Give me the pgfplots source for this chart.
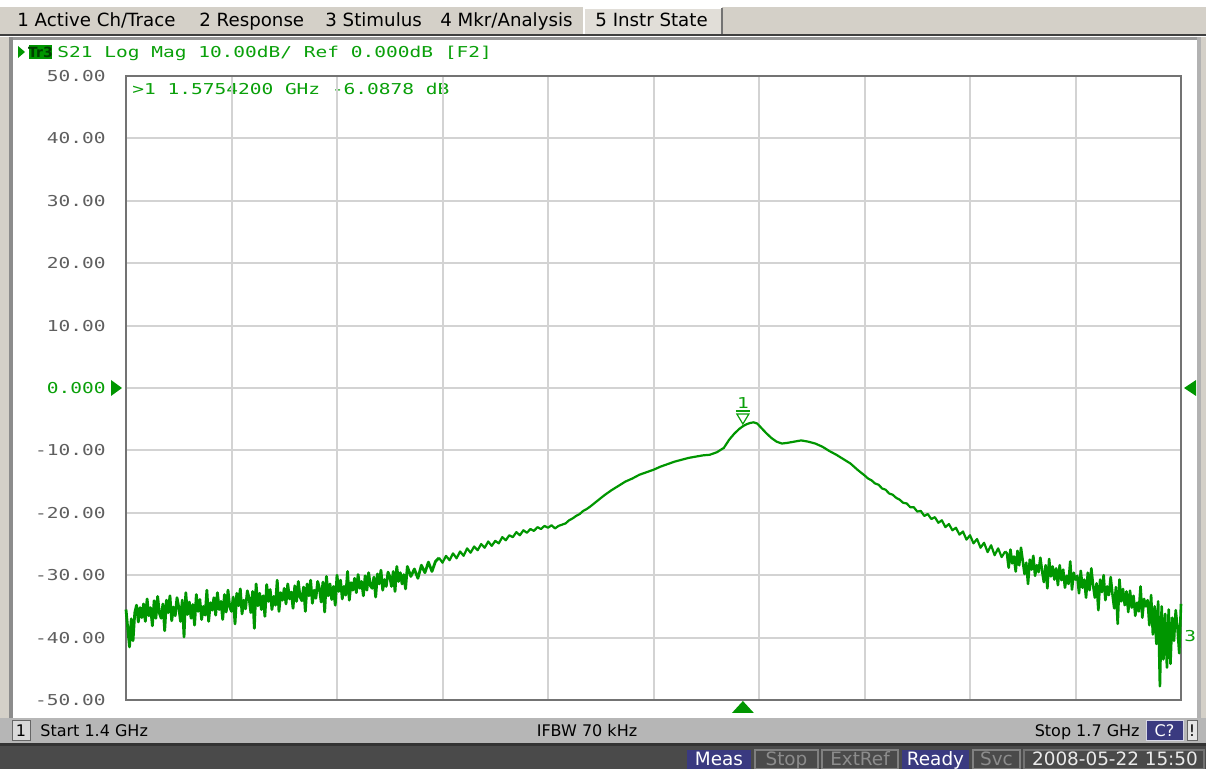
\documentclass[border=0pt]{standalone}
\usepackage{pgfplots}
\pgfplotsset{compat=1.18}
\usepackage{fontspec}
\setmainfont{DejaVu Sans}
\newfontfamily\scr[FakeStretch=1.30]{DejaVu Sans Mono}
\newcommand\mono{\fontsize{7.5}{9}\selectfont\scr}
\newcommand\menufont{\fontsize{9.1}{10}\selectfont}
\newcommand\statfont{\fontsize{8}{9}\selectfont}
\newcommand\barfont{\fontsize{9.2}{10}\selectfont}
\definecolor{trg}{RGB}{0,150,0}
\definecolor{txg}{RGB}{10,160,10}
\definecolor{menubg}{RGB}{212,208,200}
\definecolor{statbg}{RGB}{182,182,182}
\definecolor{darkbar}{RGB}{74,74,74}
\definecolor{navy}{RGB}{58,58,128}
\definecolor{gridc}{RGB}{211,211,211}
\definecolor{labgray}{RGB}{95,95,95}
\begin{document}
\begin{tikzpicture}
\path[use as bounding box] (0,0) rectangle (603pt,-384.5pt);
\begin{scope}[x=0.5pt,y=-0.5pt]
 \fill[white] (0,0) rectangle (1206,769);
 % menu bar
 \fill[menubg] (0,7) rectangle (1206,35);
 \fill[black!75] (0,34.5) rectangle (1206,36.5);
 \fill[menubg!70!white] (584,8) rectangle (722,34);
 \draw[white, line width=1pt] (584,34) -- (584,8) -- (722,8);
 \draw[black!55, line width=1pt] (722,8) -- (722,34);
 \node[anchor=base west, inner sep=0, font=\menufont] at (17,27) {1 Active Ch/Trace};
 \node[anchor=base west, inner sep=0, font=\menufont] at (199,27) {2 Response};
 \node[anchor=base west, inner sep=0, font=\menufont] at (325,27) {3 Stimulus};
 \node[anchor=base west, inner sep=0, font=\menufont] at (440,27) {4 Mkr/Analysis};
 \node[anchor=base west, inner sep=0, font=\menufont] at (595,27) {5 Instr State};
 % panel border
 \fill[black!40] (0,37) rectangle (1206,40);
 \fill[black!45] (9,37) rectangle (13,718);
 \fill[black!30] (1197,37) rectangle (1201,718);
 \fill[menubg] (1201,37) rectangle (1206,718);
 \fill[menubg] (0,37) rectangle (9,718);
 % header
 \fill[trg] (18,46) -- (25,52) -- (18,58) -- cycle;
 \fill[trg] (29,45) rectangle (52,59);
 \node[anchor=center, inner sep=0, font=\fontsize{7}{7}\selectfont\bfseries, text=black!75!green] at (40.5,52.5) {Tr3};
 \node[anchor=base west, inner sep=0, font=\mono, text=txg] at (57,57.5) {S21 Log Mag 10.00dB/ Ref 0.000dB [F2]};
 \node[anchor=base west, inner sep=0, font=\mono, text=txg] at (132,94.5) {>1 1.5754200 GHz -6.0878 dB};
 % status bar
 \fill[statbg] (0,718) rectangle (1206,743);
 \fill[black!80] (0,743) rectangle (1206,746);
 \fill[darkbar] (0,746) rectangle (1206,769);
 \fill[black!15] (12,721) rectangle (30,741);
 \draw[black!60, line width=0.5pt] (12,721) rectangle (30,741);
 \node[anchor=base, inner sep=0, font=\statfont] at (21,737) {1};
 \node[anchor=base west, inner sep=0, font=\statfont] at (40,737) {Start 1.4 GHz};
 \node[anchor=base, inner sep=0, font=\statfont] at (587,737) {IFBW 70 kHz};
 \node[anchor=base east, inner sep=0, font=\statfont] at (1140,737) {Stop 1.7 GHz};
 \fill[navy] (1146,721) rectangle (1183,741);
 \draw[white!80!navy, line width=0.5pt] (1146,721) rectangle (1183,741);
 \node[anchor=base, inner sep=0, font=\statfont, text=white] at (1164.5,737) {C?};
 \fill[black!10] (1187,721) rectangle (1197,741);
 \draw[black!60, line width=0.5pt] (1187,721) rectangle (1197,741);
 \node[anchor=base, inner sep=0, font=\statfont] at (1192,737) {!};
 % bottom bar boxes
 \fill[navy] (687,750) rectangle (751,769);
 \node[anchor=base, inner sep=0, font=\barfont, text=white] at (719,766) {Meas};
 \draw[black!50, line width=1pt] (755,750) rectangle (818,769);
 \node[anchor=base, inner sep=0, font=\barfont, text=black!45] at (786.5,766) {Stop};
 \draw[black!50, line width=1pt] (822,750) rectangle (898,769);
 \node[anchor=base, inner sep=0, font=\barfont, text=black!45] at (860,766) {ExtRef};
 \fill[navy] (902,750) rectangle (969,769);
 \node[anchor=base, inner sep=0, font=\barfont, text=white] at (935.5,766) {Ready};
 \draw[black!50, line width=1pt] (973,750) rectangle (1020,769);
 \node[anchor=base, inner sep=0, font=\barfont, text=black!45] at (996.5,766) {Svc};
 \draw[black!55, line width=1pt] (1024,750) rectangle (1204,769);
 \node[anchor=base, inner sep=0, font=\barfont, text=black!8] at (1115,766) {2008-05-22 15:50};
\end{scope}
\begin{axis}[
  at={(63pt,-350pt)}, anchor=south west,
  width=527.5pt, height=312pt, scale only axis,
  xmin=1.4, xmax=1.7, ymin=-50, ymax=50,
  xtick={1.43,1.46,1.49,1.52,1.55,1.58,1.61,1.64,1.67},
  xticklabels={},
  ytick={-50,-40,-30,-20,-10,0,10,20,30,40,50},
  yticklabels={-50.00,-40.00,-30.00,-20.00,-10.00,{\textcolor{txg}{0.000}},10.00,20.00,30.00,40.00,50.00},
  yticklabel style={font=\mono, text=labgray, anchor=east, inner sep=0pt, xshift=-10pt},
  major tick length=0pt, tick style={draw=none},
  grid=major, major grid style={gridc, line width=1pt},
  axis line style={draw=black!55, line width=0.6pt},
  clip=false,
]
% noisy low-frequency part
\addplot[trg, line width=1.4pt, line join=round] coordinates {
(1.4000,-35.5)(1.4005,-38.5)(1.4010,-41.5)(1.4015,-37.0)(1.4020,-40.5)(1.4025,-36.0)(1.4030,-34.8)(1.4035,-37.5)(1.4040,-35.2)(1.4045,-36.8)
(1.4050,-34.6)(1.4055,-37.4)(1.4060,-33.8)(1.4065,-36.5)(1.4070,-35.2)(1.4075,-38.1)(1.4080,-34.1)(1.4085,-36.9)(1.4090,-33.4)(1.4095,-36.1)
(1.4100,-36.9)(1.4105,-34.6)(1.4110,-38.9)(1.4115,-34.0)(1.4120,-36.0)(1.4125,-33.3)(1.4130,-37.3)(1.4135,-35.1)(1.4140,-36.5)(1.4145,-33.6)
(1.4150,-35.1)(1.4155,-37.4)(1.4160,-34.0)(1.4165,-39.9)(1.4170,-32.8)(1.4175,-36.3)(1.4180,-34.3)(1.4185,-36.9)(1.4190,-34.7)(1.4195,-38.0)
(1.4200,-33.1)(1.4205,-35.8)(1.4210,-33.9)(1.4215,-37.1)(1.4220,-35.0)(1.4225,-36.4)(1.4230,-32.4)(1.4235,-37.4)(1.4240,-34.4)(1.4245,-35.6)
(1.4250,-33.6)(1.4255,-36.4)(1.4260,-32.8)(1.4265,-35.5)(1.4270,-34.2)(1.4275,-37.1)(1.4280,-33.1)(1.4285,-35.9)(1.4290,-32.4)(1.4295,-35.1)
(1.4300,-35.8)(1.4305,-33.5)(1.4310,-37.8)(1.4315,-32.9)(1.4320,-34.9)(1.4325,-32.2)(1.4330,-36.2)(1.4335,-34.0)(1.4340,-35.4)(1.4345,-32.5)
(1.4350,-33.7)(1.4355,-36.0)(1.4360,-32.6)(1.4365,-38.5)(1.4370,-31.4)(1.4375,-34.9)(1.4380,-32.9)(1.4385,-35.5)(1.4390,-33.3)(1.4395,-36.6)
(1.4400,-31.5)(1.4405,-34.2)(1.4410,-32.3)(1.4415,-35.5)(1.4420,-33.4)(1.4425,-34.8)(1.4430,-30.8)(1.4435,-35.8)(1.4440,-32.8)(1.4445,-34.0)
(1.4450,-32.1)(1.4455,-34.6)(1.4460,-31.4)(1.4465,-33.8)(1.4470,-32.7)(1.4475,-35.3)(1.4480,-31.7)(1.4485,-34.2)(1.4490,-31.0)(1.4495,-33.5)
(1.4500,-34.1)(1.4505,-31.9)(1.4510,-35.8)(1.4515,-31.4)(1.4520,-33.3)(1.4525,-30.8)(1.4530,-34.5)(1.4535,-32.4)(1.4540,-33.7)(1.4545,-31.0)
(1.4550,-32.1)(1.4555,-34.3)(1.4560,-31.1)(1.4565,-35.9)(1.4570,-30.2)(1.4575,-33.3)(1.4580,-31.4)(1.4585,-33.9)(1.4590,-31.8)(1.4595,-34.8)
(1.4600,-30.0)(1.4605,-32.6)(1.4610,-30.8)(1.4615,-33.8)(1.4620,-31.8)(1.4625,-33.2)(1.4630,-29.4)(1.4635,-34.0)(1.4640,-31.2)(1.4645,-32.4)
(1.4650,-30.5)(1.4655,-32.8)(1.4660,-29.9)(1.4665,-32.1)(1.4670,-31.0)(1.4675,-33.3)(1.4680,-30.1)(1.4685,-32.4)(1.4690,-29.6)(1.4695,-31.7)
(1.4700,-32.1)(1.4705,-30.3)(1.4710,-33.5)(1.4715,-29.8)(1.4720,-31.4)(1.4725,-29.2)(1.4730,-32.4)(1.4735,-30.7)(1.4740,-31.8)(1.4745,-29.5)
(1.4750,-30.2)(1.4755,-31.8)(1.4760,-29.4)(1.4765,-32.6)(1.4770,-28.6)(1.4775,-31.0)(1.4780,-29.6)(1.4785,-31.4)(1.4790,-29.9)(1.4795,-32.2)
(1.480,-28.6)(1.481,-30.2)(1.482,-29.0)(1.483,-30.5)(1.484,-28.4)(1.485,-29.6)(1.486,-27.9)(1.487,-29.4)(1.488,-27.8)(1.489,-27.2)
};
% smoother central part
\addplot[trg, line width=1.1pt, line join=round] coordinates {
(1.489,-27.2)(1.490,-28.0)(1.491,-26.9)(1.492,-27.6)(1.493,-26.5)(1.494,-27.3)(1.495,-26.2)(1.496,-26.9)(1.497,-25.7)(1.498,-26.4)
(1.499,-25.4)(1.500,-26.0)(1.501,-25.0)(1.502,-25.6)(1.503,-24.6)(1.504,-25.3)(1.505,-24.5)(1.506,-24.9)(1.507,-23.9)(1.508,-24.4)
(1.509,-23.6)(1.510,-23.9)(1.511,-23.1)(1.512,-23.6)(1.513,-22.8)(1.514,-23.2)(1.515,-22.6)(1.516,-22.9)(1.517,-22.3)(1.518,-22.6)
(1.519,-22.1)(1.520,-22.4)(1.521,-22.0)(1.522,-22.5)(1.523,-22.1)(1.524,-21.9)(1.525,-21.7)(1.526,-21.2)(1.527,-20.9)(1.528,-20.5)
(1.529,-20.2)(1.530,-19.7)(1.531,-19.4)(1.532,-19.0)
(1.534,-18.1)(1.536,-17.2)(1.538,-16.4)(1.540,-15.7)(1.542,-15.0)(1.544,-14.5)(1.546,-13.9)(1.548,-13.5)(1.550,-13.1)(1.552,-12.6)
(1.554,-12.2)(1.556,-11.8)(1.558,-11.5)(1.560,-11.2)(1.562,-11.0)(1.564,-10.8)(1.566,-10.7)(1.568,-10.3)(1.570,-9.6)(1.5715,-8.3)
(1.573,-7.3)(1.5745,-6.5)(1.5755,-6.1)(1.5765,-5.8)(1.5775,-5.6)(1.5785,-5.5)(1.5795,-5.7)(1.5805,-6.3)(1.582,-7.2)(1.5835,-8.0)
(1.585,-8.6)(1.5865,-8.9)(1.588,-8.8)(1.590,-8.6)(1.592,-8.4)(1.594,-8.6)(1.596,-8.9)(1.598,-9.4)(1.600,-10.1)(1.602,-10.7)
(1.604,-11.4)(1.606,-12.1)(1.608,-13.1)
(1.610,-14.0)(1.611,-14.5)(1.612,-14.8)(1.613,-15.3)(1.614,-15.5)(1.615,-16.1)(1.616,-16.3)(1.617,-16.9)(1.618,-17.1)(1.619,-17.6)
(1.620,-17.9)(1.621,-18.4)(1.622,-18.5)(1.623,-19.1)(1.624,-19.1)(1.625,-19.8)(1.626,-19.7)(1.627,-20.5)(1.628,-20.2)(1.629,-21.0)
(1.630,-20.7)(1.631,-21.6)(1.632,-21.2)(1.633,-22.3)(1.634,-21.8)(1.635,-22.8)(1.636,-22.4)(1.637,-23.5)(1.638,-23.0)(1.639,-24.3)
(1.640,-23.6)(1.641,-24.9)(1.642,-24.2)(1.643,-25.6)(1.644,-24.8)(1.645,-26.3)(1.646,-25.2)(1.647,-26.8)(1.648,-25.7)(1.649,-27.1)
(1.650,-26.2)
};
% noisy high-frequency part
\addplot[trg, line width=1.3pt, line join=round] coordinates {
(1.650,-26.2)
(1.6505,-26.5)(1.6510,-28.8)(1.6515,-25.9)(1.6520,-28.1)(1.6525,-27.0)(1.6530,-29.4)(1.6535,-26.1)(1.6540,-28.4)(1.6545,-25.6)(1.6550,-27.7)
(1.6555,-29.8)(1.6560,-28.0)(1.6565,-31.4)(1.6570,-27.5)(1.6575,-29.1)(1.6580,-26.9)(1.6585,-30.1)(1.6590,-28.4)(1.6595,-29.5)(1.6600,-27.2)
(1.6605,-29.3)(1.6610,-31.1)(1.6615,-28.4)(1.6620,-32.1)(1.6625,-27.4)(1.6630,-30.2)(1.6635,-28.6)(1.6640,-30.7)(1.6645,-28.9)(1.6650,-31.6)
(1.6655,-28.4)(1.6660,-30.8)(1.6665,-29.1)(1.6670,-32.0)(1.6675,-30.1)(1.6680,-31.4)(1.6685,-27.8)(1.6690,-32.3)(1.6695,-29.6)(1.6700,-30.7)
(1.6705,-30.1)(1.6710,-32.9)(1.6715,-29.3)(1.6720,-32.0)(1.6725,-30.7)(1.6730,-33.6)(1.6735,-29.6)(1.6740,-32.4)(1.6745,-28.9)(1.6750,-31.6)
(1.6755,-33.6)(1.6760,-31.3)(1.6765,-35.6)(1.6770,-30.7)(1.6775,-32.7)(1.6780,-30.0)(1.6785,-34.0)(1.6790,-31.8)(1.6795,-33.2)(1.6800,-30.3)
(1.6805,-33.0)(1.6810,-35.3)(1.6815,-31.9)(1.6820,-37.8)(1.6825,-30.7)(1.6830,-34.2)(1.6835,-32.2)(1.6840,-34.8)(1.6845,-32.6)(1.6850,-35.9)
(1.6855,-32.5)(1.6860,-35.2)(1.6865,-33.3)(1.6870,-36.5)(1.6875,-34.4)(1.6880,-35.8)(1.6885,-31.8)(1.6890,-36.8)(1.6895,-33.8)(1.6900,-35.0)
(1.6905,-34.0)(1.6910,-38.0)(1.6915,-33.2)(1.6920,-39.5)(1.6925,-35.0)(1.6930,-41.0)(1.6935,-34.2)(1.6940,-47.8)(1.6945,-35.0)(1.6950,-43.5)
(1.6955,-36.2)(1.6960,-44.8)(1.6965,-35.5)(1.6970,-44.2)(1.6975,-36.8)(1.6980,-40.5)(1.6985,-35.6)(1.6990,-38.5)(1.6995,-42.5)(1.7000,-34.6)
};
% marker 1
\draw[txg, line width=0.6pt] ([yshift=1pt]axis cs:1.57542,-6.09) -- ([xshift=-3pt,yshift=6pt]axis cs:1.57542,-6.09) -- ([xshift=3pt,yshift=6pt]axis cs:1.57542,-6.09) -- cycle;
\draw[txg, line width=0.6pt] ([xshift=-3.5pt,yshift=7.5pt]axis cs:1.57542,-6.09) -- ([xshift=3.5pt,yshift=7.5pt]axis cs:1.57542,-6.09);
\node[txg, font=\mono, inner sep=0, anchor=center] at ([yshift=11.5pt]axis cs:1.57542,-6.09) {1};
% stimulus marker at bottom
\fill[trg] ([yshift=-0.5pt]axis cs:1.57542,-50) -- ([xshift=5.5pt,yshift=-6.5pt]axis cs:1.57542,-50) -- ([xshift=-5.5pt,yshift=-6.5pt]axis cs:1.57542,-50) -- cycle;
% reference level markers
\fill[trg] ([xshift=-2pt]rel axis cs:0,0.5) -- ([xshift=-7.5pt,yshift=4pt]rel axis cs:0,0.5) -- ([xshift=-7.5pt,yshift=-4pt]rel axis cs:0,0.5) -- cycle;
\fill[trg] ([xshift=1.5pt]rel axis cs:1,0.5) -- ([xshift=7.5pt,yshift=4pt]rel axis cs:1,0.5) -- ([xshift=7.5pt,yshift=-4pt]rel axis cs:1,0.5) -- cycle;
\node[txg, font=\mono, inner sep=0, anchor=west] at ([xshift=1.5pt]axis cs:1.7,-39.7) {3};
\end{axis}
\end{tikzpicture}
\end{document}
